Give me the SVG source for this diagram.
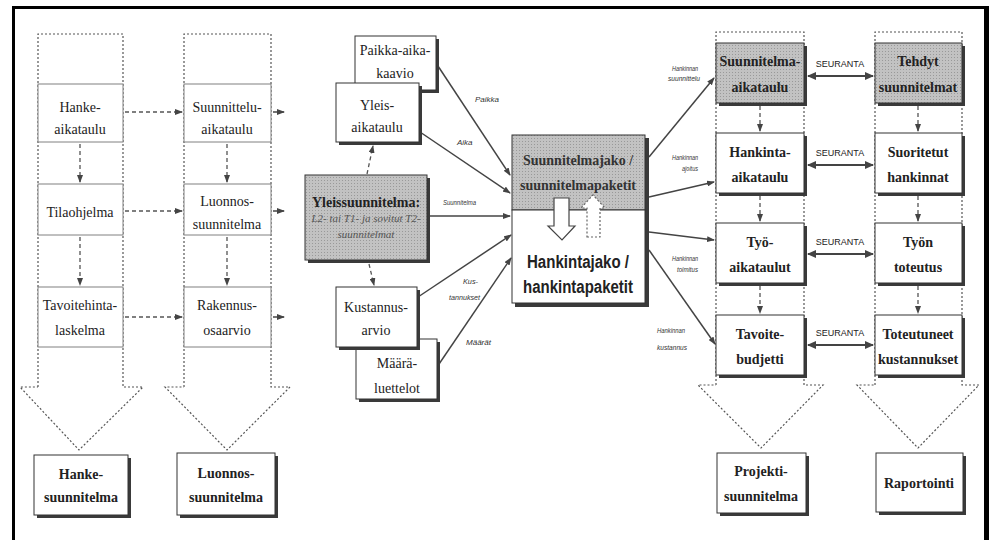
<svg xmlns="http://www.w3.org/2000/svg" width="989" height="540" viewBox="0 0 989 540">
<style>
.box{fill:#fff;stroke:#808080;stroke-width:1}
.sbox{fill:#fff;stroke:#333;stroke-width:1}
.gbox{fill:url(#dots);stroke:#333;stroke-width:1}
.sh{fill:#3a3a3a}
.col{fill:none;stroke:#555;stroke-width:1.2;stroke-dasharray:2 2}
.t{font-family:"Liberation Serif","Times New Roman",serif;font-size:14px;fill:#222;text-anchor:middle}
.b{font-weight:bold}
.it{font-style:italic;font-size:11px;fill:#555}
.hk{font-family:"Liberation Sans",Arial,sans-serif;font-size:18px;font-weight:bold;fill:#222;text-anchor:middle}
.lbl{font-family:"Liberation Sans",Arial,sans-serif;font-size:8px;font-style:italic;fill:#333}
.seu{font-family:"Liberation Sans",Arial,sans-serif;font-size:9px;fill:#222;text-anchor:middle}
.dash{fill:none;stroke:#555;stroke-width:1.3;stroke-dasharray:4 3}
.sol{fill:none;stroke:#444;stroke-width:1.5}
.dbl{fill:none;stroke:#444;stroke-width:2}
</style>
<defs>
<pattern id="dots" width="3" height="3" patternUnits="userSpaceOnUse">
<rect width="3" height="3" fill="#c2c2c2"/>
<rect width="1" height="1" fill="#999"/>
</pattern>
<marker id="ah" markerWidth="8" markerHeight="6" refX="7" refY="3" orient="auto" markerUnits="userSpaceOnUse">
<path d="M0,0 L8,3 L0,6 z" fill="#444"/>
</marker>
<marker id="ah2" markerWidth="9" markerHeight="8" refX="8" refY="4" orient="auto-start-reverse" markerUnits="userSpaceOnUse">
<path d="M0,0 L9,4 L0,8 z" fill="#444"/>
</marker>
</defs>
<rect width="989" height="540" fill="#fff"/>
<!-- frame -->
<g id="frame">
<rect x="12" y="6" width="977" height="3" fill="#000"/>
<rect x="12" y="6" width="3" height="534" fill="#000"/>
<rect x="984" y="6" width="5" height="534" fill="#000"/>
</g>
<!-- column outlines with big hollow arrows -->
<g id="columns">
<path class="col" d="M38,387 V34 H123 V387 H143 L79,450 L20,387 H38"/>
<path class="col" d="M184,387 V34 H271 V387 H290 L227,450 L165,387 H184"/>
<path class="col" d="M716,385 V32 H804 V385 H823 L761,448 L698,385 H716"/>
<path class="col" d="M875,385 V32 H962 V385 H979 L918,448 L857,385 H875"/>
</g>
<!-- connectors -->
<g id="connectors">
<line class="dash" x1="125" y1="112" x2="182" y2="112" marker-end="url(#ah)"/>
<line class="dash" x1="125" y1="211" x2="182" y2="211" marker-end="url(#ah)"/>
<line class="dash" x1="125" y1="317" x2="182" y2="317" marker-end="url(#ah)"/>
<line class="sol" x1="273" y1="112" x2="284" y2="112" marker-end="url(#ah)"/>
<line class="sol" x1="273" y1="211" x2="284" y2="211" marker-end="url(#ah)"/>
<line class="sol" x1="273" y1="317" x2="284" y2="317" marker-end="url(#ah)"/>
<line class="dash" x1="80" y1="144" x2="80" y2="182" marker-end="url(#ah)"/>
<line class="dash" x1="80" y1="237" x2="80" y2="285" marker-end="url(#ah)"/>
<line class="dash" x1="227" y1="144" x2="227" y2="182" marker-end="url(#ah)"/>
<line class="dash" x1="227" y1="237" x2="227" y2="285" marker-end="url(#ah)"/>
<line class="dash" x1="367" y1="174" x2="373" y2="146" marker-end="url(#ah)"/>
<line class="dash" x1="369" y1="264" x2="374" y2="285" marker-end="url(#ah)"/>
<line class="sol" x1="436" y1="63" x2="510" y2="175" marker-end="url(#ah)"/>
<line class="sol" x1="420" y1="132" x2="510" y2="193" marker-end="url(#ah)"/>
<line class="sol" x1="430" y1="216" x2="510" y2="216" marker-end="url(#ah)"/>
<line class="sol" x1="418" y1="297" x2="511" y2="235" marker-end="url(#ah)"/>
<line class="sol" x1="437" y1="367" x2="511" y2="258" marker-end="url(#ah)"/>
<line class="sol" x1="649" y1="157" x2="714" y2="78" marker-end="url(#ah)"/>
<line class="sol" x1="649" y1="197" x2="714" y2="182" marker-end="url(#ah)"/>
<line class="sol" x1="649" y1="232" x2="714" y2="240" marker-end="url(#ah)"/>
<line class="sol" x1="649" y1="250" x2="715" y2="344" marker-end="url(#ah)"/>
<line class="dash" x1="760" y1="106" x2="760" y2="131" marker-end="url(#ah)"/>
<line class="dash" x1="760" y1="196" x2="760" y2="221" marker-end="url(#ah)"/>
<line class="dash" x1="760" y1="286" x2="760" y2="313" marker-end="url(#ah)"/>
<line class="dash" x1="918" y1="106" x2="918" y2="131" marker-end="url(#ah)"/>
<line class="dash" x1="918" y1="196" x2="918" y2="221" marker-end="url(#ah)"/>
<line class="dash" x1="918" y1="286" x2="918" y2="313" marker-end="url(#ah)"/>
<line class="dbl" x1="808" y1="76" x2="873" y2="76" marker-start="url(#ah2)" marker-end="url(#ah2)"/>
<line class="dbl" x1="808" y1="165" x2="873" y2="165" marker-start="url(#ah2)" marker-end="url(#ah2)"/>
<line class="dbl" x1="808" y1="254" x2="873" y2="254" marker-start="url(#ah2)" marker-end="url(#ah2)"/>
<line class="dbl" x1="808" y1="345" x2="873" y2="345" marker-start="url(#ah2)" marker-end="url(#ah2)"/>
<text class="lbl" x="475" y="102">Paikka</text>
<text class="lbl" x="457" y="145">Aika</text>
<text class="lbl" x="443" y="205" textLength="33" lengthAdjust="spacingAndGlyphs">Suunnitelma</text>
<text class="lbl" x="463" y="284" textLength="15" lengthAdjust="spacingAndGlyphs">Kus-</text>
<text class="lbl" x="449" y="300" textLength="31" lengthAdjust="spacingAndGlyphs">tannukset</text>
<text class="lbl" x="466" y="345" textLength="25" lengthAdjust="spacingAndGlyphs">Määrät</text>
<text class="lbl" x="672" y="71" textLength="26" lengthAdjust="spacingAndGlyphs">Hankinnan</text>
<text class="lbl" x="668" y="81" textLength="32" lengthAdjust="spacingAndGlyphs">suunnittelu</text>
<text class="lbl" x="672" y="160" textLength="26" lengthAdjust="spacingAndGlyphs">Hankinnan</text>
<text class="lbl" x="682" y="171" textLength="16" lengthAdjust="spacingAndGlyphs">ajoitus</text>
<text class="lbl" x="672" y="261" textLength="26" lengthAdjust="spacingAndGlyphs">Hankinnan</text>
<text class="lbl" x="677" y="272" textLength="21" lengthAdjust="spacingAndGlyphs">toimitus</text>
<text class="lbl" x="657" y="333" textLength="28" lengthAdjust="spacingAndGlyphs">Hankinnan</text>
<text class="lbl" x="657" y="350" textLength="30" lengthAdjust="spacingAndGlyphs">kustannus</text>
<text class="seu" x="840" y="67">SEURANTA</text>
<text class="seu" x="840" y="156">SEURANTA</text>
<text class="seu" x="840" y="245">SEURANTA</text>
<text class="seu" x="840" y="336">SEURANTA</text>
</g>
<!-- left column 1 -->
<g id="hanke-aikataulu"><rect class="box" x="38" y="84" width="85" height="58"/><text class="t" x="80" y="112">Hanke-</text><text class="t" x="80" y="134">aikataulu</text></g>
<g id="tilaohjelma"><rect class="box" x="38" y="184" width="85" height="51"/><text class="t" x="80" y="217">Tilaohjelma</text></g>
<g id="tavoitehinta"><rect class="box" x="38" y="287" width="85" height="60"/><text class="t" x="80" y="310">Tavoitehinta-</text><text class="t" x="80" y="335">laskelma</text></g>
<!-- left column 2 -->
<g id="suunnittelu-aikataulu"><rect class="box" x="184" y="84" width="87" height="58"/><text class="t" x="227" y="112">Suunnittelu-</text><text class="t" x="227" y="134">aikataulu</text></g>
<g id="luonnos"><rect class="box" x="184" y="184" width="87" height="51"/><text class="t" x="227" y="206">Luonnos-</text><text class="t" x="227" y="229">suunnitelma</text></g>
<g id="rakennus"><rect class="box" x="184" y="287" width="87" height="60"/><text class="t" x="227" y="310">Rakennus-</text><text class="t" x="227" y="335">osaarvio</text></g>
<!-- bottom left outputs -->
<g id="hanke-suunnitelma"><rect class="sh" x="37" y="458" width="94" height="60"/><rect class="sbox" x="34" y="455" width="94" height="60"/><text class="t b" x="81" y="479">Hanke-</text><text class="t b" x="81" y="502">suunnitelma</text></g>
<g id="luonnos-suunnitelma"><rect class="sh" x="180" y="456" width="98" height="62"/><rect class="sbox" x="177" y="453" width="98" height="62"/><text class="t b" x="226" y="478">Luonnos-</text><text class="t b" x="226" y="502">suunnitelma</text></g>
<!-- middle -->
<g id="paikka-aika-kaavio"><rect class="sh" x="358" y="39" width="81" height="54"/><rect class="sbox" x="355" y="36" width="81" height="54"/><text class="t" x="395" y="55">Paikka-aika-</text><text class="t" x="395" y="78">kaavio</text></g>
<g id="yleis-aikataulu"><rect class="sh" x="339" y="86" width="83" height="59"/><rect class="sbox" x="336" y="83" width="83" height="59"/><text class="t" x="377" y="110">Yleis-</text><text class="t" x="377" y="132">aikataulu</text></g>
<g id="yleissuunnitelma"><rect class="sh" x="308" y="178" width="122" height="85"/><rect class="gbox" x="305" y="175" width="122" height="85"/><text class="t b" x="366" y="207">Yleissuunnitelma:</text><text class="t it" x="366" y="222">L2- tai T1- ja sovitut T2-</text><text class="t it" x="366" y="238">suunnitelmat</text></g>
<g id="maara-luettelot"><rect class="sh" x="359" y="342" width="81" height="60"/><rect class="sbox" x="356" y="339" width="81" height="60"/><text class="t" x="397" y="368">Määrä-</text><text class="t" x="397" y="393">luettelot</text></g>
<g id="kustannusarvio"><rect class="sh" x="339" y="290" width="81" height="60"/><rect class="sbox" x="336" y="287" width="81" height="60"/><text class="t" x="376" y="312">Kustannus-</text><text class="t" x="376" y="335">arvio</text></g>
<g id="suunnitelmajako"><rect class="sh" x="515" y="138" width="134" height="169"/><rect class="gbox" x="512" y="135" width="133" height="75"/><text class="t b" x="578" y="165" style="fill:#333">Suunnitelmajako /</text><text class="t b" x="578" y="190" style="fill:#333">suunnitelmapaketit</text></g>
<g id="hankintajako"><rect class="sbox" x="512" y="210" width="133" height="93"/><text class="hk" x="578" y="268" textLength="102" lengthAdjust="spacingAndGlyphs">Hankintajako /</text><text class="hk" x="578" y="293" textLength="110" lengthAdjust="spacingAndGlyphs">hankintapaketit</text></g>
<g id="block-arrows">
<polygon points="554,198 569,198 569,226 575,226 562,240 548,226 554,226" fill="#fff" stroke="#444" stroke-width="1.2"/>
<polygon points="587,237 600,237 600,208 605,208 593,195 581,208 587,208" fill="#fff" stroke="#666" stroke-width="1.2" stroke-dasharray="2 2"/>
</g>
<!-- right column 3 -->
<g id="suunnitelma-aikataulu"><rect class="sh" x="719" y="46" width="88" height="60"/><rect class="gbox" x="716" y="43" width="88" height="60"/><text class="t b" x="760" y="66">Suunnitelma-</text><text class="t b" x="760" y="92">aikataulu</text></g>
<g id="hankinta-aikataulu"><rect class="sh" x="719" y="136" width="88" height="60"/><rect class="sbox" x="716" y="133" width="88" height="60"/><text class="t b" x="760" y="157">Hankinta-</text><text class="t b" x="760" y="182">aikataulu</text></g>
<g id="tyo-aikataulut"><rect class="sh" x="719" y="226" width="88" height="60"/><rect class="sbox" x="716" y="223" width="88" height="60"/><text class="t b" x="760" y="247">Työ-</text><text class="t b" x="760" y="272">aikataulut</text></g>
<g id="tavoitebudjetti"><rect class="sh" x="719" y="318" width="88" height="60"/><rect class="sbox" x="716" y="315" width="88" height="60"/><text class="t b" x="760" y="339">Tavoite-</text><text class="t b" x="760" y="364">budjetti</text></g>
<!-- right column 4 -->
<g id="tehdyt-suunnitelmat"><rect class="sh" x="878" y="46" width="87" height="60"/><rect class="gbox" x="875" y="43" width="87" height="60"/><text class="t b" x="918" y="66">Tehdyt</text><text class="t b" x="918" y="92">suunnitelmat</text></g>
<g id="suoritetut-hankinnat"><rect class="sh" x="878" y="136" width="87" height="60"/><rect class="sbox" x="875" y="133" width="87" height="60"/><text class="t b" x="918" y="157">Suoritetut</text><text class="t b" x="918" y="182">hankinnat</text></g>
<g id="tyon-toteutus"><rect class="sh" x="878" y="226" width="87" height="60"/><rect class="sbox" x="875" y="223" width="87" height="60"/><text class="t b" x="918" y="247">Työn</text><text class="t b" x="918" y="272">toteutus</text></g>
<g id="toteutuneet-kustannukset"><rect class="sh" x="878" y="318" width="87" height="60"/><rect class="sbox" x="875" y="315" width="87" height="60"/><text class="t b" x="918" y="339">Toteutuneet</text><text class="t b" x="918" y="364">kustannukset</text></g>
<!-- bottom right outputs -->
<g id="projektisuunnitelma"><rect class="sh" x="720" y="456" width="89" height="60"/><rect class="sbox" x="717" y="453" width="89" height="60"/><text class="t b" x="761" y="476">Projekti-</text><text class="t b" x="761" y="501">suunnitelma</text></g>
<g id="raportointi"><rect class="sh" x="879" y="456" width="87" height="59"/><rect class="sbox" x="876" y="453" width="87" height="59"/><text class="t b" x="919" y="488">Raportointi</text></g>
</svg>
